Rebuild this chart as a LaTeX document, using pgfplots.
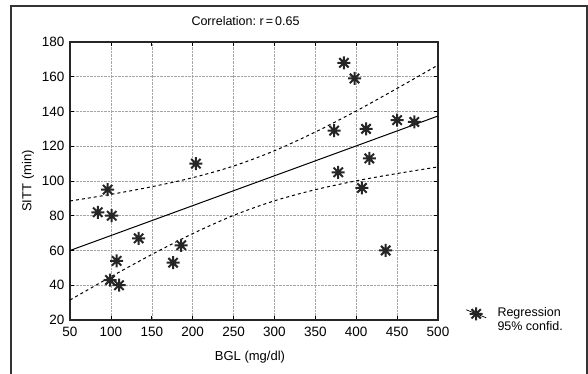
\documentclass[border=0pt]{standalone}
\usepackage{fontspec}
\setmainfont{Liberation Sans}
\usepackage{pgfplots}
\pgfplotsset{compat=1.18}
\pgfdeclareplotmark{ast8}{%
  \pgfpathmoveto{\pgfqpoint{-\pgfplotmarksize}{0pt}}\pgfpathlineto{\pgfqpoint{\pgfplotmarksize}{0pt}}%
  \pgfpathmoveto{\pgfqpoint{0pt}{-\pgfplotmarksize}}\pgfpathlineto{\pgfqpoint{0pt}{\pgfplotmarksize}}%
  \pgfpathmoveto{\pgfqpoint{-0.72\pgfplotmarksize}{-0.72\pgfplotmarksize}}\pgfpathlineto{\pgfqpoint{0.72\pgfplotmarksize}{0.72\pgfplotmarksize}}%
  \pgfpathmoveto{\pgfqpoint{-0.72\pgfplotmarksize}{0.72\pgfplotmarksize}}\pgfpathlineto{\pgfqpoint{0.72\pgfplotmarksize}{-0.72\pgfplotmarksize}}%
  \pgfusepathqstroke}
\begin{document}
\begin{tikzpicture}
\useasboundingbox (-70pt,-54pt) rectangle (518pt,320pt);
\draw[line width=1.2pt,black!80] (-59pt,-60pt) -- (-59pt,314pt) -- (517pt,314pt) -- (517pt,-60pt);
\begin{axis}[
  scale only axis, width=368pt, height=278pt,
  xmin=50, xmax=500, ymin=20, ymax=180,
  xtick={50,100,...,500}, ytick={20,40,...,180},
  tick align=inside, major tick length=4pt,
  tick style={black, line width=0.6pt},
  axis line style={line width=1.3pt, black!85},
  grid=major,
  major grid style={densely dotted, gray!70, line width=0.5pt},
  /pgf/number format/assume math mode=true,
  tick label style={font=\fontsize{13.5}{14}\selectfont},
  xticklabel style={yshift=-4pt},
  yticklabel style={xshift=-2pt},
  title={Correlation:\ r\,=\,0.65},
  title style={font=\fontsize{12.5}{14}\selectfont, at={(axis description cs:0.477,1.055)}, anchor=center},
  xlabel={BGL (mg/dl)},
  xlabel style={font=\fontsize{13}{14}\selectfont, at={(axis description cs:0.489,-0.133)}, anchor=center},
  ylabel={SITT (min)},
  ylabel style={font=\fontsize{13}{14}\selectfont, at={(axis description cs:-0.114,0.5)}, anchor=center, rotate=0},
  legend style={at={(axis description cs:1.075,0.052)}, anchor=north west, draw=none, fill=none,
    font=\fontsize{12.5}{13.5}\selectfont, cells={align=left}, inner sep=0pt, column sep=9pt},
  legend cell align=left,
  legend image code/.code={%
    \draw[black, line width=0.7pt] (2pt,10pt) -- (22pt,2pt);
    \draw[#1, mark repeat=2, mark phase=2] plot coordinates {(0pt,6pt) (12pt,6pt) (24pt,6pt)};},
  clip=true,
]
\addplot[only marks, mark=ast8, mark size=6.5pt, mark options={line width=2pt, black!85}] coordinates {
(84,82) (96,95) (101,80) (99,43) (107,54) (110,40) (134,67) (176,53) (186,63) (204,110)
(373,129) (385,168) (398,159) (378,105) (412,130) (416,113) (407,96) (436,60) (450,135) (471,134)
};
\addlegendentry{Regression\\95\% confid.}
\addplot[black, line width=1pt, forget plot] coordinates {(50,60) (500,137.4)};
\addplot[black, dashed, line width=1pt, smooth, forget plot] coordinates {
(50,88.5) (100,92.3) (150,96.7) (200,101.9) (250,108.6) (300,117.4) (350,128.2) (400,140.3) (450,153.3) (500,166.7)};
\addplot[black, dashed, line width=1pt, smooth, forget plot] coordinates {
(50,31.5) (100,44.9) (150,57.7) (200,69.7) (250,80.2) (300,88.6) (350,95.0) (400,100.1) (450,104.3) (500,108.1)};
\end{axis}
\end{tikzpicture}
\end{document}
